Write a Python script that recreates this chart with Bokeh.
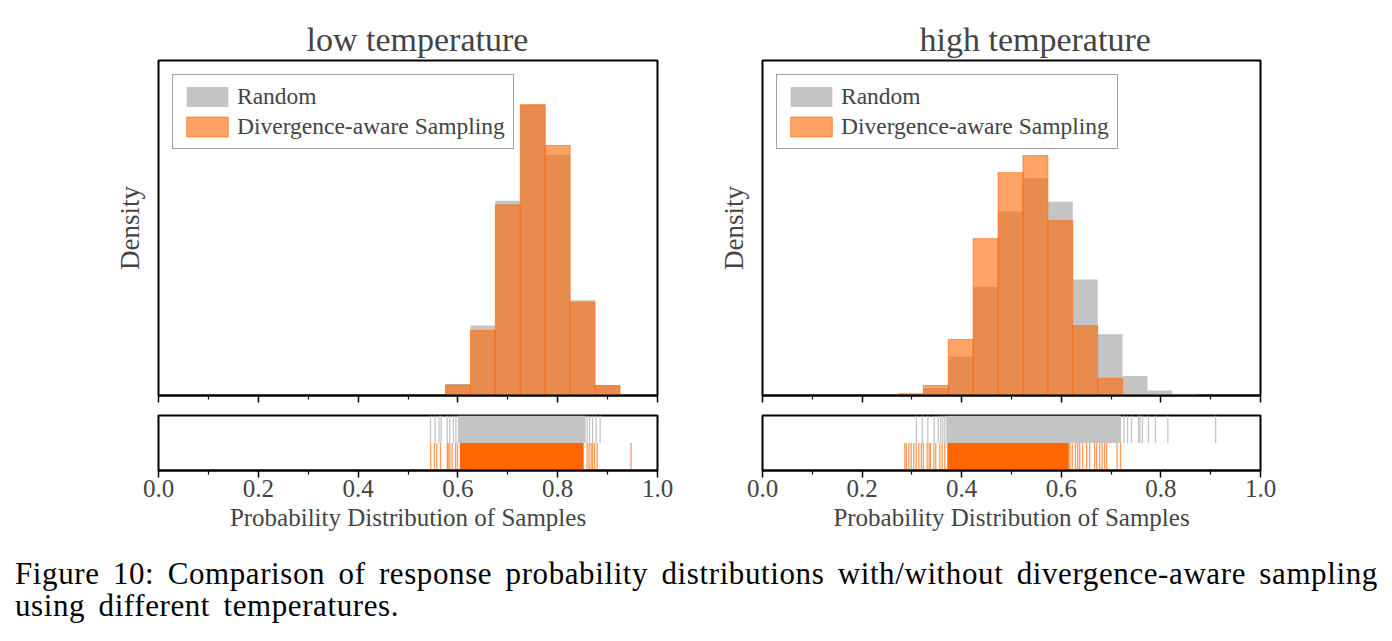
from bokeh.plotting import figure
from bokeh.models import Range1d, FixedTicker, Legend, LegendItem, Div
from bokeh.layouts import column, row
from bokeh.embed import file_html
from bokeh.resources import INLINE

# ---------------- data ----------------
panel_titles = ["low temperature", "high temperature"]
series_names = ["Random", "Divergence-aware Sampling"]
x_label = "Probability Distribution of Samples"
y_label = "Density"
major_ticks = [0.0, 0.2, 0.4, 0.6, 0.8, 1.0]
tick_labels = ["0.0", "0.2", "0.4", "0.6", "0.8", "1.0"]
minor_ticks = [0.1, 0.3, 0.5, 0.7, 0.9]
caption_lines = [
    "Figure 10: Comparison of response probability distributions with/without divergence-aware sampling",
    "using different temperatures.",
]

# low temperature histogram (density)
low_bin_edges = [0.575, 0.625, 0.675, 0.725, 0.775, 0.825, 0.875, 0.925]
low_random_density = [0.25, 1.54, 4.28, 6.39, 5.29, 2.09, 0.22]
low_divergence_density = [0.23, 1.43, 4.19, 6.39, 5.49, 2.05, 0.22]
low_density_max = 7.36

# high temperature histogram (density)
high_bin_edges = [0.273, 0.323, 0.373, 0.423, 0.473, 0.523, 0.573, 0.623,
                  0.673, 0.723, 0.773, 0.823, 0.873]
high_random_density = [0.02, 0.16, 0.82, 2.29, 3.87, 4.57, 4.08, 2.44, 1.29, 0.41, 0.105, 0.036]
high_divergence_density = [0.036, 0.21, 1.18, 3.30, 4.69, 5.05, 3.68, 1.47, 0.36, 0.01, 0.0, 0.0]
high_density_max = 7.05

# rug samples: isolated samples and the densely covered span
low_random_rug = [0.545, 0.5545, 0.562, 0.5665, 0.5786, 0.5838, 0.591, 0.596,
                  0.859, 0.864, 0.870, 0.877, 0.885]
low_random_dense = [0.600, 0.856]
low_divergence_rug = [0.5457, 0.553, 0.5577, 0.565, 0.5786, 0.5805, 0.5838, 0.5885,
                      0.5952, 0.599, 0.859, 0.863, 0.867, 0.870, 0.874, 0.879, 0.947]
low_divergence_dense = [0.604, 0.852]

high_random_rug = [0.309, 0.3207, 0.332, 0.345, 0.3528, 0.358, 0.362, 0.366,
                   0.726, 0.733, 0.741, 0.755, 0.758, 0.763, 0.775, 0.789, 0.814, 0.910]
high_random_dense = [0.369, 0.720]
high_divergence_rug = [0.2858, 0.289, 0.294, 0.2986, 0.3038, 0.3086, 0.314, 0.319, 0.323,
                       0.3307, 0.3347, 0.3373, 0.344, 0.348, 0.356, 0.3608, 0.366,
                       0.617, 0.622, 0.6285, 0.633, 0.637, 0.643, 0.651, 0.657, 0.667,
                       0.671, 0.677, 0.682, 0.687, 0.691, 0.712, 0.719]
high_divergence_dense = [0.371, 0.615]

# ---------------- style ----------------
SERIF = "Liberation Serif"
GRAY = "#C4C4C4"
ORANGE = "#FF6600"


def make_panel(title, title_offset, edges, rand, div, ymax,
               rand_rug, rand_dense, div_rug, div_dense,
               width, border_left, border_right):
    p = figure(width=width, height=405, x_range=Range1d(0, 1), y_range=Range1d(0, ymax),
               output_backend="svg", toolbar_location=None,
               min_border_left=border_left, min_border_right=border_right,
               min_border_top=60, min_border_bottom=10)
    p.title.text = title
    p.title.align = "left"
    p.title.offset = title_offset
    p.title.text_font = SERIF
    p.title.text_font_size = "34px"
    p.title.text_font_style = "normal"
    p.title.standoff = 5
    p.xgrid.visible = False
    p.ygrid.visible = False
    p.outline_line_color = "black"
    p.outline_line_width = 2
    p.outline_line_alpha = 1

    # ticks only (labels are shown under the rug panel)
    p.xaxis.ticker = FixedTicker(ticks=major_ticks, minor_ticks=minor_ticks)
    p.xaxis.major_label_text_color = None
    p.xaxis.major_label_text_font_size = "8px"
    p.xaxis.major_label_standoff = 0
    p.xaxis.major_tick_out = 7
    p.xaxis.major_tick_in = 0
    p.xaxis.minor_tick_out = 4
    p.xaxis.minor_tick_in = 0
    p.xaxis.axis_line_color = "black"
    p.xaxis.axis_line_width = 2
    p.xaxis.major_tick_line_width = 1.5
    p.xaxis.minor_tick_line_width = 1.2

    p.yaxis.ticker = FixedTicker(ticks=[])
    p.yaxis.axis_label = y_label
    p.yaxis.axis_label_text_font = SERIF
    p.yaxis.axis_label_text_font_size = "27px"
    p.yaxis.axis_label_text_font_style = "normal"
    p.yaxis.axis_label_standoff = 14
    p.yaxis.axis_line_color = None
    p.yaxis.major_label_text_color = None
    p.yaxis.major_tick_out = 0
    p.yaxis.minor_tick_out = 0
    p.yaxis.major_label_standoff = 0

    r_gray = p.quad(left=edges[:-1], right=edges[1:], bottom=0, top=rand,
                    fill_color=GRAY, line_color=None)
    r_or = p.quad(left=edges[:-1], right=edges[1:], bottom=0, top=div,
                  fill_color=ORANGE, fill_alpha=0.6, line_color=ORANGE,
                  line_alpha=0.6, line_width=1)
    legend = Legend(items=[LegendItem(label=series_names[0], renderers=[r_gray]),
                           LegendItem(label=series_names[1], renderers=[r_or])],
                    location="top_left", margin=14, padding=8, spacing=3,
                    glyph_width=52, glyph_height=25, label_standoff=4,
                    label_text_font=SERIF, label_text_font_size="23.5px",
                    border_line_color="#444444", border_line_width=1.2,
                    background_fill_alpha=1)
    p.add_layout(legend)

    # rug
    r = figure(width=width, height=135, x_range=Range1d(0, 1), y_range=Range1d(0, 1),
               output_backend="svg", toolbar_location=None, title=None,
               min_border_left=border_left, min_border_right=border_right,
               min_border_top=10, min_border_bottom=70)
    r.xgrid.visible = False
    r.ygrid.visible = False
    r.outline_line_color = "black"
    r.outline_line_width = 2
    r.outline_line_alpha = 1
    r.quad(left=[rand_dense[0]], right=[rand_dense[1]], bottom=0.5, top=1,
           fill_color=GRAY, line_color=None)
    r.segment(x0=rand_rug, y0=0.5, x1=rand_rug, y1=1, line_color=GRAY, line_width=1.3)
    r.quad(left=[div_dense[0]], right=[div_dense[1]], bottom=0, top=0.5,
           fill_color=ORANGE, line_color=None)
    r.segment(x0=div_rug, y0=0, x1=div_rug, y1=0.5, line_color=ORANGE,
              line_alpha=0.65, line_width=1.3)

    r.xaxis.ticker = FixedTicker(ticks=major_ticks, minor_ticks=minor_ticks)
    r.xaxis.major_label_overrides = {t: l for t, l in zip(major_ticks, tick_labels)}
    r.xaxis.major_label_text_font = SERIF
    r.xaxis.major_label_text_font_size = "25px"
    r.xaxis.major_label_standoff = 2
    r.xaxis.major_tick_out = 7
    r.xaxis.major_tick_in = 0
    r.xaxis.minor_tick_out = 4
    r.xaxis.minor_tick_in = 0
    r.xaxis.major_tick_line_width = 1.5
    r.xaxis.minor_tick_line_width = 1.2
    r.xaxis.axis_line_width = 2
    r.xaxis.axis_label = x_label
    r.xaxis.axis_label_text_font = SERIF
    r.xaxis.axis_label_text_font_size = "25px"
    r.xaxis.axis_label_text_font_style = "normal"
    r.xaxis.axis_label_standoff = 4
    r.yaxis.visible = False
    return column(p, r, spacing=0)


left = make_panel(panel_titles[0], 148, low_bin_edges, low_random_density,
                  low_divergence_density, low_density_max,
                  low_random_rug, low_random_dense, low_divergence_rug, low_divergence_dense,
                  700, 158, 43)
right = make_panel(panel_titles[1], 157, high_bin_edges, high_random_density,
                   high_divergence_density, high_density_max,
                   high_random_rug, high_random_dense, high_divergence_rug, high_divergence_dense,
                   692, 62, 132)

caption = Div(
    text=('<div style="font-family:\'Liberation Serif\';font-size:31px;line-height:32px;'
          'letter-spacing:0.6px;word-spacing:5px;padding:18px 0 0 15px;color:#000;'
          'white-space:nowrap">' + caption_lines[0] + '<br>' + caption_lines[1] + '</div>'),
    width=1392, height=100, margin=0)

layout = column(row(left, right, spacing=0), caption, spacing=0)

open("out.html", "w").write(file_html(layout, INLINE))
